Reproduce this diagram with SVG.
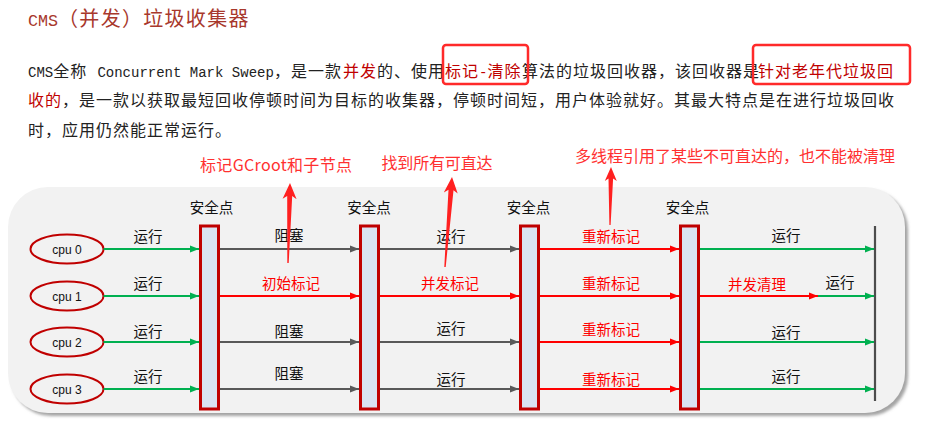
<svg xmlns="http://www.w3.org/2000/svg" width="926" height="428" viewBox="0 0 926 428">
<style>
.cjk{font-family:"Noto Sans CJK SC","Noto Sans",sans-serif}
.mono{font-family:"Liberation Mono","Noto Sans CJK SC",monospace}
.para{font-size:16px;fill:#222}
.para tspan.c{letter-spacing:1px}
.hl{fill:#c00000}
.lbl{font-family:"Noto Sans CJK SC",sans-serif;font-size:14.5px;text-anchor:middle;fill:#111}
.lbl.r{fill:#ff0000}
.ann{font-family:"Noto Sans CJK SC",sans-serif;font-size:16px;text-anchor:middle;fill:#ff3030}
.cpu{fill:none;stroke:#c00000;stroke-width:2}
.cpuT{font-family:"Liberation Sans",Arial,sans-serif;font-size:12px;text-anchor:middle;fill:#111}
.bar{fill:#dae3f1;stroke:#c00000;stroke-width:3}
.g{stroke:#00b050;stroke-width:2;fill:none;marker-end:url(#ag)}
.k{stroke:#595959;stroke-width:2;fill:none;marker-end:url(#ak)}
.rd{stroke:#ff0000;stroke-width:2;fill:none;marker-end:url(#ar)}
.box{fill:none;stroke:#ff2a2a;stroke-width:2.5}
.big{fill:#ff2020}
</style>
<defs>
<filter id="sh" x="-5%" y="-10%" width="110%" height="125%">
<feDropShadow dx="3" dy="3" stdDeviation="1.8" flood-color="#8c8c8c" flood-opacity="0.8"/>
</filter>
<marker id="ag" markerUnits="userSpaceOnUse" markerWidth="9" markerHeight="8" refX="9" refY="4" orient="auto"><path d="M0,0.5 L9,4 L0,7.5 z" fill="#00b050"/></marker>
<marker id="ak" markerUnits="userSpaceOnUse" markerWidth="9" markerHeight="8" refX="9" refY="4" orient="auto"><path d="M0,0.5 L9,4 L0,7.5 z" fill="#595959"/></marker>
<marker id="ar" markerUnits="userSpaceOnUse" markerWidth="9" markerHeight="8" refX="9" refY="4" orient="auto"><path d="M0,0.5 L9,4 L0,7.5 z" fill="#ff0000"/></marker>
</defs>

<rect width="926" height="428" fill="#ffffff"/>

<g id="title">
<text x="28" y="26" fill="#a8382c" font-size="20px"><tspan class="mono" font-size="16.7px">CMS</tspan><tspan class="cjk" letter-spacing="1.3px">（并发）垃圾收集器</tspan></text>
</g>

<g id="paragraph" class="para">
<text y="77"><tspan class="mono" x="28" font-size="14px">CMS</tspan><tspan class="cjk c">全称</tspan><tspan class="mono" x="89" font-size="14px"> Concurrent Mark Sweep</tspan><tspan class="cjk c" x="274">，是一款</tspan><tspan class="cjk c hl" x="343">并发</tspan><tspan class="cjk c">的、使用</tspan><tspan class="cjk c hl" x="445">标记</tspan><tspan class="mono hl" font-size="14px">-</tspan><tspan class="cjk c hl">清除</tspan><tspan class="cjk c" x="522">算法的垃圾回收器，该回收器是</tspan><tspan class="cjk c hl" x="758">针对老年代垃圾回</tspan></text>
<text y="106"><tspan class="cjk c hl" x="28">收的</tspan><tspan class="cjk c">，是一款以获取最短回收停顿时间为目标的收集器，停顿时间短，用户体验就好。其最大特点是在进行垃圾回收</tspan></text>
<text y="136"><tspan class="cjk c" x="28">时，应用仍然能正常运行。</tspan></text>
<rect class="box" x="443" y="45" width="85" height="39" rx="3"/>
<rect class="box" x="753" y="45" width="157" height="39" rx="3"/>
</g>

<g id="panel">
<rect x="8" y="187" width="897" height="226" rx="40" fill="#f2f2f2" filter="url(#sh)"/>
</g>

<g id="annotations">
<text class="ann" x="276" y="171" textLength="152">标记GCroot和子节点</text>
<text class="ann" x="437" y="169" textLength="111">找到所有可直达</text>
<text class="ann" x="735" y="162" textLength="320">多线程引用了某些不可直达的，也不能被清理</text>
</g>

<g id="cpu0"><ellipse class="cpu" cx="67" cy="249" rx="36.5" ry="14.5"/><text class="cpuT" x="67" y="253.5">cpu 0</text></g>
<g id="cpu1"><ellipse class="cpu" cx="67" cy="296" rx="36.5" ry="14.5"/><text class="cpuT" x="67" y="300.5">cpu 1</text></g>
<g id="cpu2"><ellipse class="cpu" cx="67" cy="342" rx="36.5" ry="14.5"/><text class="cpuT" x="67" y="346.5">cpu 2</text></g>
<g id="cpu3"><ellipse class="cpu" cx="67" cy="389" rx="36.5" ry="14.5"/><text class="cpuT" x="67" y="393.5">cpu 3</text></g>

<g id="safepoint1"><rect class="bar" x="200.5" y="226" width="18" height="183"/><text class="lbl" x="211.5" y="213">安全点</text></g>
<g id="safepoint2"><rect class="bar" x="360.5" y="226" width="18" height="183"/><text class="lbl" x="369" y="213">安全点</text></g>
<g id="safepoint3"><rect class="bar" x="520.5" y="226" width="18" height="183"/><text class="lbl" x="528.5" y="213">安全点</text></g>
<g id="safepoint4"><rect class="bar" x="680.5" y="226" width="18" height="183"/><text class="lbl" x="687.5" y="213">安全点</text></g>
<g id="end"><line x1="875" y1="226" x2="875" y2="401" stroke="#4d4d4d" stroke-width="2.2"/></g>

<g id="connectors">
<path class="g" d="M103.5,249 H199"/>
<path class="k" d="M220,249 H359"/>
<path class="k" d="M380,249 H519"/>
<path class="rd" d="M540,249 H679"/>
<path class="g" d="M700,249 H874"/>

<path class="g" d="M103.5,296 H199"/>
<path class="rd" d="M220,296 H359"/>
<path class="rd" d="M380,296 H519"/>
<path class="rd" d="M540,296 H679"/>
<path class="rd" d="M700,296 H818"/>
<path class="g" d="M818,296 H874"/>

<path class="g" d="M103.5,342 H199"/>
<path class="k" d="M220,342 H359"/>
<path class="k" d="M380,342 H519"/>
<path class="rd" d="M540,342 H679"/>
<path class="g" d="M700,342 H874"/>

<path class="g" d="M103.5,389 H199"/>
<path class="k" d="M220,389 H359"/>
<path class="k" d="M380,389 H519"/>
<path class="rd" d="M540,389 H679"/>
<path class="g" d="M700,389 H874"/>
</g>

<g id="edge-labels">
<text class="lbl" x="148" y="242">运行</text>
<text class="lbl" x="289" y="241">阻塞</text>
<text class="lbl" x="451" y="242">运行</text>
<text class="lbl r" x="611" y="242">重新标记</text>
<text class="lbl" x="786" y="241">运行</text>

<text class="lbl" x="148" y="289">运行</text>
<text class="lbl r" x="291" y="289">初始标记</text>
<text class="lbl r" x="450" y="289">并发标记</text>
<text class="lbl r" x="611" y="289">重新标记</text>
<text class="lbl r" x="757" y="290">并发清理</text>
<text class="lbl" x="840" y="288">运行</text>

<text class="lbl" x="148" y="337">运行</text>
<text class="lbl" x="289" y="337">阻塞</text>
<text class="lbl" x="451" y="334">运行</text>
<text class="lbl r" x="611" y="335">重新标记</text>
<text class="lbl" x="786" y="338">运行</text>

<text class="lbl" x="148" y="382">运行</text>
<text class="lbl" x="289" y="379">阻塞</text>
<text class="lbl" x="451" y="385">运行</text>
<text class="lbl r" x="611" y="385">重新标记</text>
<text class="lbl" x="786" y="382">运行</text>
</g>

<g id="callout-arrows">
<polygon class="big" points="290,183 296.6,199.2 292.2,196.1 288.7,263 287.3,263 287.2,195.9 282.6,198.8"/>
<polygon class="big" points="452,177 457.7,193.5 453.5,190.2 445.7,267.1 444.3,266.9 448.5,189.8 443.8,192.4"/>
<polygon class="big" points="611,167 616.8,181.1 613.1,178.5 610.6,225 609.4,225 608.5,178.5 604.8,180.9"/>
</g>
</svg>
